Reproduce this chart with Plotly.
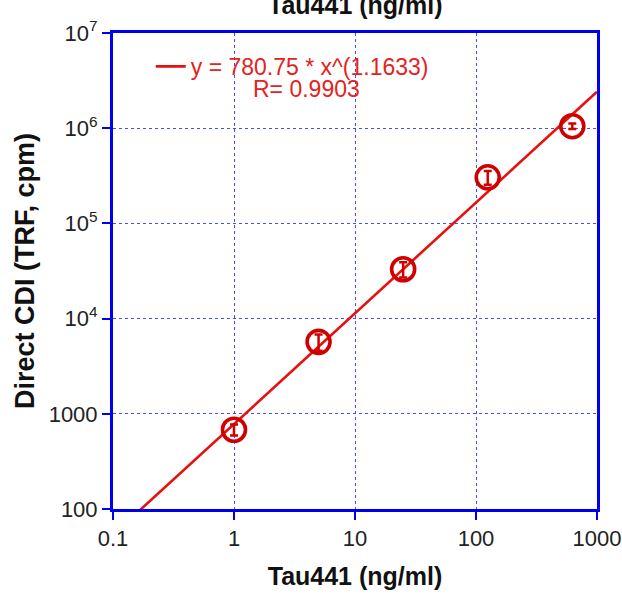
import numpy as np
import plotly.graph_objects as go

# ---- data ----
conc = [1, 5, 25, 125, 625]                      # Tau441 (ng/ml)
signal = [680, 5700, 33000, 305000, 1050000]     # Direct CDI (TRF, cpm)
signal_err = [90, 1100, 6000, 50000, 70000]
fit_a = 780.75
fit_b = 1.1633
fit_r = 0.9903
x_tickvals = [0.1, 1, 10, 100, 1000]
x_ticktext = ["0.1", "1", "10", "100", "1000"]
y_tickvals = [100, 1000, 1e4, 1e5, 1e6, 1e7]
y_ticktext = ["100", "1000", "10<sup>4</sup>", "10<sup>5</sup>", "10<sup>6</sup>", "10<sup>7</sup>"]

FONT = "Liberation Sans, Arial, Helvetica, sans-serif"
BLUE = "#0000f0"
GRID = "#4a4aff"
RED_LINE = "#e8100e"
RED_MARK = "#d00000"
RED_TEXT = "#e52222"

fit_x = np.array([x_tickvals[0], x_tickvals[-1]])
fit_y = fit_a * fit_x ** fit_b

fig = go.Figure()
fig.add_trace(go.Scatter(
    x=fit_x, y=fit_y, mode="lines",
    line=dict(color=RED_LINE, width=2.6),
    name=f"y = {fit_a} * x^({fit_b})",
    showlegend=True,
))
fig.add_trace(go.Scatter(
    x=conc, y=signal, mode="markers",
    marker=dict(symbol="circle-open", size=23, color=RED_MARK, line=dict(width=3.6, color=RED_MARK)),
    error_y=dict(type="data", array=signal_err, visible=True, color=RED_MARK, thickness=2.5, width=4),
    showlegend=False,
))

axis_common = dict(
    type="log",
    automargin=False,
    showline=True, linecolor=BLUE, linewidth=3, mirror=True,
    ticks="outside", ticklen=8, tickwidth=2, tickcolor=BLUE,
    showgrid=True, gridcolor=GRID, gridwidth=1, griddash="dot",
    zeroline=False,
    tickfont=dict(family=FONT, size=22, color="#222222"),
    minor=dict(showgrid=False),
)

fig.update_xaxes(
    **axis_common,
    range=[-1, 3],
    tickvals=x_tickvals, ticktext=x_ticktext,
    title=dict(text="<b>Tau441 (ng/ml)</b>", font=dict(family=FONT, size=25, color="#111111"), standoff=18),
)
fig.update_yaxes(
    **axis_common,
    range=[2, 7],
    tickvals=y_tickvals, ticktext=y_ticktext,
    title=dict(text="<b>Direct CDI (TRF, cpm)</b>", font=dict(family=FONT, size=27, color="#111111"), standoff=7),
)

fig.update_layout(
    width=622, height=598,
    margin=dict(l=113, r=25, t=33, b=89),
    paper_bgcolor="white", plot_bgcolor="white",
    showlegend=True,
    legend=dict(
        x=0.078, y=0.975, xanchor="left", yanchor="top",
        bgcolor="rgba(0,0,0,0)", borderwidth=0,
        font=dict(family=FONT, size=23, color=RED_TEXT),
        itemwidth=30,
    ),
    annotations=[
        dict(text=f"R= {fit_r}", xref="paper", yref="paper", x=0.40, y=0.882,
             xanchor="center", yanchor="middle", showarrow=False,
             font=dict(family=FONT, size=23, color=RED_TEXT)),
        dict(text="<b>Tau441 (ng/ml)</b>", xref="paper", yref="paper", x=0.5, y=1,
             xanchor="center", yanchor="bottom", yshift=12, showarrow=False,
             font=dict(family=FONT, size=25, color="#111111")),
    ],
)

fig.write_html("out.html")
